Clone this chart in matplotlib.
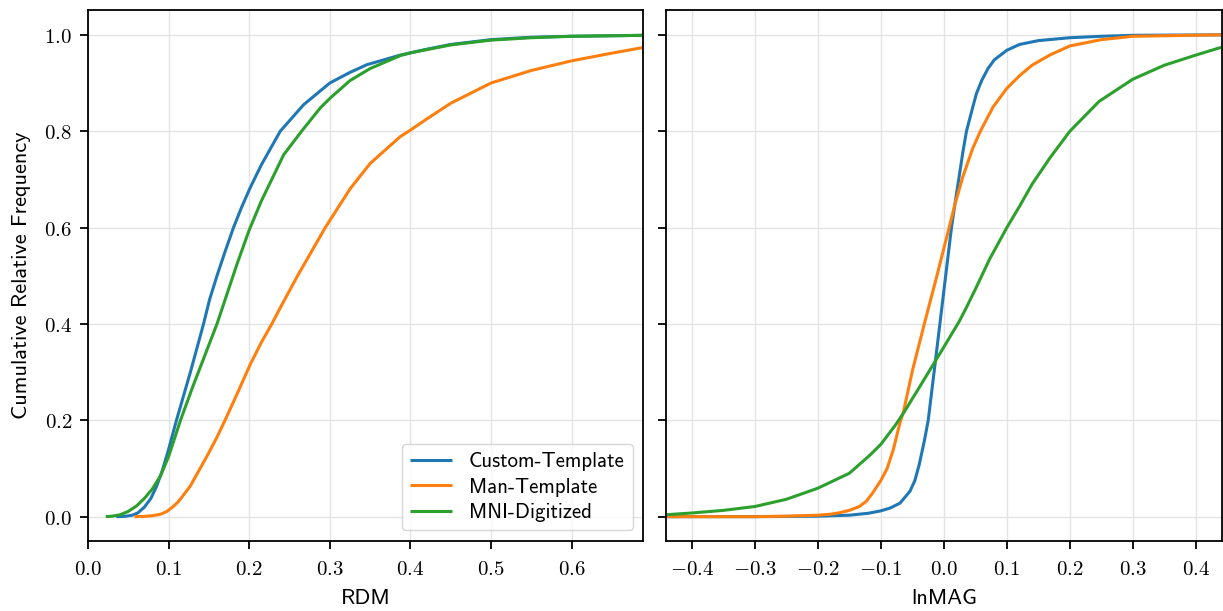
import matplotlib
matplotlib.use("Agg")
import matplotlib.pyplot as plt
from matplotlib.ticker import FuncFormatter, MultipleLocator

# ---- ECDF traces, RDM panel ----
rdm_custom_x = [0.035, 0.045, 0.055, 0.062, 0.070, 0.078, 0.085, 0.092, 0.100, 0.1097,
                0.127, 0.1433, 0.1507, 0.160, 0.170, 0.1805, 0.190, 0.201, 0.215, 0.2385,
                0.2675, 0.30, 0.325, 0.346, 0.3876, 0.42, 0.45, 0.50, 0.55, 0.60, 0.69]
rdm_custom_y = [0.0, 0.0005, 0.003, 0.008, 0.020, 0.038, 0.063, 0.095, 0.140, 0.200,
                0.300, 0.400, 0.450, 0.500, 0.550, 0.600, 0.640, 0.682, 0.730, 0.800,
                0.855, 0.900, 0.922, 0.938, 0.958, 0.970, 0.980, 0.990, 0.995, 0.997, 0.999]

rdm_man_x = [0.0575, 0.070, 0.080, 0.090, 0.098, 0.105, 0.112, 0.1267, 0.1474, 0.160,
             0.170, 0.185, 0.201, 0.2145, 0.228, 0.2406, 0.260, 0.2944, 0.325, 0.350,
             0.3876, 0.398, 0.420, 0.450, 0.500, 0.550, 0.600, 0.650, 0.690]
rdm_man_y = [0.0, 0.0005, 0.002, 0.005, 0.011, 0.020, 0.031, 0.063, 0.125, 0.165,
             0.200, 0.255, 0.315, 0.360, 0.400, 0.440, 0.500, 0.600, 0.680, 0.733,
             0.789, 0.800, 0.825, 0.858, 0.900, 0.926, 0.946, 0.962, 0.974]

rdm_mni_x = [0.022, 0.030, 0.040, 0.050, 0.060, 0.070, 0.080, 0.090, 0.100, 0.1147,
             0.130, 0.145, 0.160, 0.170, 0.185, 0.200, 0.215, 0.2427, 0.265, 0.288,
             0.300, 0.325, 0.350, 0.3876, 0.401, 0.450, 0.500, 0.550, 0.600, 0.690]
rdm_mni_y = [0.0, 0.001, 0.004, 0.011, 0.022, 0.038, 0.058, 0.085, 0.125, 0.200,
             0.270, 0.335, 0.400, 0.450, 0.525, 0.595, 0.655, 0.751, 0.800, 0.848,
             0.868, 0.905, 0.930, 0.957, 0.963, 0.979, 0.989, 0.994, 0.997, 0.999]

# ---- ECDF traces, lnMAG panel ----
mag_custom_x = [-0.44, -0.30, -0.20, -0.15, -0.12, -0.10, -0.085, -0.0696, -0.0538, -0.046,
                -0.0391, -0.031, -0.0248, -0.0155, -0.0063, 0.0029, 0.0121, 0.0174, 0.030,
                0.0359, 0.0459, 0.0517, 0.060, 0.070, 0.080, 0.100, 0.120, 0.150, 0.200,
                0.250, 0.300, 0.440]
mag_custom_y = [0.0, 0.0, 0.001, 0.003, 0.007, 0.012, 0.018, 0.028, 0.0526, 0.075,
                0.108, 0.157, 0.200, 0.300, 0.400, 0.500, 0.600, 0.647, 0.755,
                0.800, 0.850, 0.878, 0.905, 0.930, 0.948, 0.968, 0.980, 0.988, 0.994,
                0.997, 0.999, 1.0]

mag_man_x = [-0.44, -0.30, -0.25, -0.20, -0.18, -0.166, -0.15, -0.134, -0.123, -0.113,
             -0.100, -0.090, -0.080, -0.0696, -0.064, -0.0495, -0.031, -0.011, 0.0084,
             0.0174, 0.030, 0.046, 0.058, 0.078, 0.100, 0.120, 0.140, 0.168, 0.200,
             0.250, 0.300, 0.440]
mag_man_y = [0.0, 0.0, 0.001, 0.003, 0.005, 0.008, 0.013, 0.021, 0.032, 0.049,
             0.075, 0.100, 0.140, 0.195, 0.218, 0.305, 0.400, 0.500, 0.600,
             0.647, 0.705, 0.765, 0.800, 0.850, 0.889, 0.915, 0.937, 0.958, 0.977,
             0.990, 0.997, 1.0]

mag_mni_x = [-0.44, -0.40, -0.35, -0.30, -0.25, -0.20, -0.15, -0.117, -0.100, -0.0769,
             -0.064, -0.040, -0.0116, 0.0, 0.0243, 0.035, 0.050, 0.0728, 0.100, 0.120,
             0.140, 0.168, 0.200, 0.2465, 0.300, 0.350, 0.400, 0.440]
mag_mni_y = [0.004, 0.0076, 0.013, 0.021, 0.036, 0.059, 0.090, 0.128, 0.150, 0.190,
             0.215, 0.266, 0.327, 0.352, 0.405, 0.432, 0.472, 0.535, 0.600, 0.644,
             0.690, 0.744, 0.800, 0.862, 0.908, 0.937, 0.958, 0.974]

series_names = ["Custom-Template", "Man-Template", "MNI-Digitized"]
series_colors = ["#1f77b4", "#ff7f0e", "#2ca02c"]

plt.rcParams["mathtext.fontset"] = "cm"
label_font = "cmss10"

fig = plt.figure(figsize=(12.23, 6.11), dpi=100)
ax1 = fig.add_axes([0.072, 0.115, 0.454, 0.869])
ax2 = fig.add_axes([0.5445, 0.115, 0.4545, 0.869], sharey=ax1)

panels = [
    (ax1, [(rdm_custom_x, rdm_custom_y), (rdm_man_x, rdm_man_y), (rdm_mni_x, rdm_mni_y)]),
    (ax2, [(mag_custom_x, mag_custom_y), (mag_man_x, mag_man_y), (mag_mni_x, mag_mni_y)]),
]

tick_fmt = FuncFormatter(lambda v, pos: f"${v:.1f}$".replace("-0.0", "0.0"))

for ax, traces in panels:
    for (xs, ys), name, col in zip(traces, series_names, series_colors):
        ax.plot(xs, ys, color=col, lw=2.2, label=name,
                solid_joinstyle="round", solid_capstyle="butt")
    ax.grid(True, color="#e4e4e4", lw=1.0)
    ax.set_axisbelow(True)
    for sp in ax.spines.values():
        sp.set_color("black")
        sp.set_linewidth(1.3)
    ax.tick_params(axis="both", direction="out", length=5.5, width=1.3,
                   labelsize=15, colors="black")
    ax.tick_params(axis="x", pad=8)
    ax.tick_params(axis="y", pad=6)
    ax.xaxis.set_major_locator(MultipleLocator(0.1))
    ax.yaxis.set_major_locator(MultipleLocator(0.2))
    ax.xaxis.set_major_formatter(tick_fmt)
    ax.yaxis.set_major_formatter(tick_fmt)

ax1.set_xlim(0.0, 0.689)
ax2.set_xlim(-0.441, 0.441)
ax1.set_ylim(-0.05, 1.052)
ax2.tick_params(axis="y", labelleft=False)

ax1.set_xlabel("RDM", fontfamily=label_font, fontsize=16, labelpad=6.5)
ax2.set_xlabel("lnMAG", fontfamily=label_font, fontsize=16, labelpad=6.5)
ax1.set_ylabel("Cumulative Relative Frequency", fontfamily=label_font, fontsize=16, labelpad=9)

leg = ax1.legend(loc="lower right", prop={"family": label_font, "size": 15},
                 frameon=True, fancybox=True, framealpha=0.8, edgecolor="#cccccc",
                 handlelength=2.0, borderpad=0.4, labelspacing=0.3)

fig.savefig("out.png", dpi=100)
